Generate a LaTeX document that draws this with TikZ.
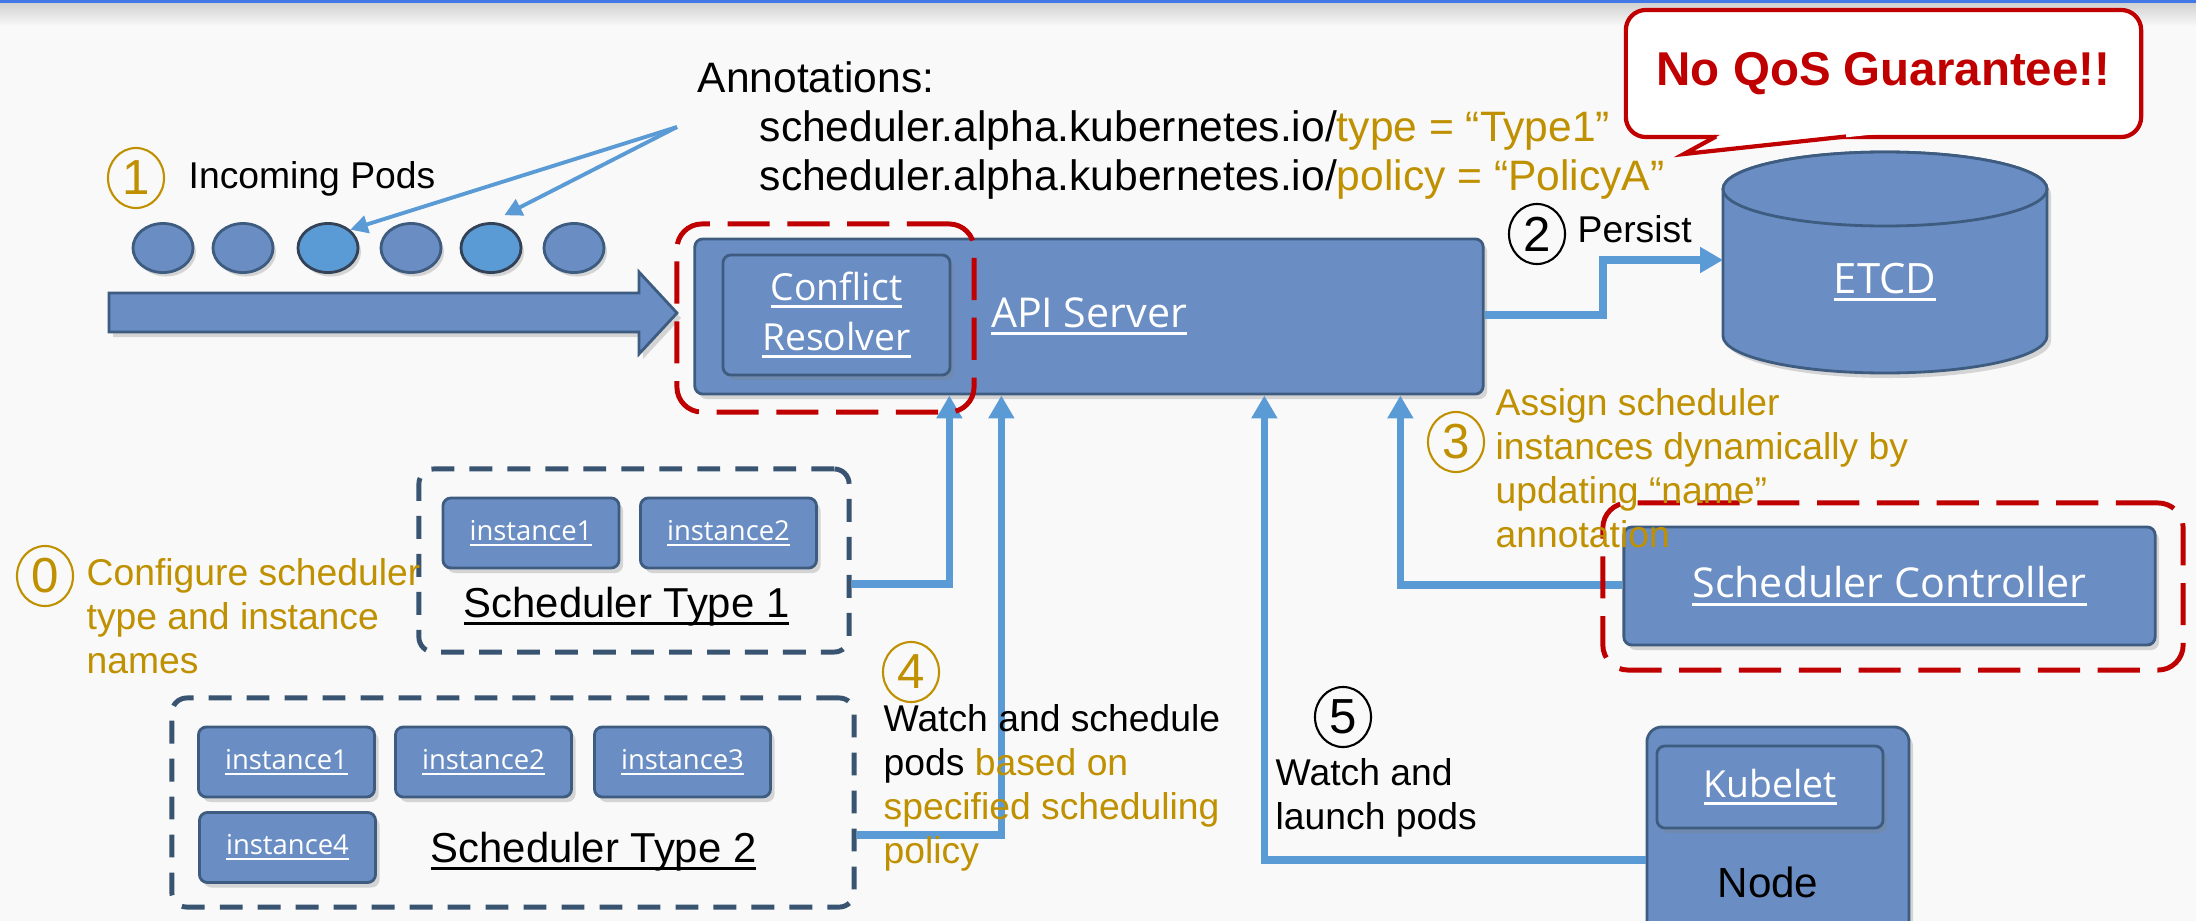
\documentclass[tikz,border=0pt]{standalone}
\usepackage{fontspec}
\setmainfont{Liberation Sans}
\newfontfamily\boxfont{Open Sans}
\usetikzlibrary{shapes.geometric}
\usetikzlibrary{shadows}
\usetikzlibrary{arrows.meta,calc}

\definecolor{boxblue}{RGB}{106,142,196}
\definecolor{boxedge}{RGB}{62,92,128}
\definecolor{flowblue}{RGB}{91,155,213}
\definecolor{podedge}{RGB}{52,66,88}
\definecolor{gold}{RGB}{191,144,0}
\definecolor{alarm}{RGB}{192,0,0}
\definecolor{slate}{RGB}{56,84,112}
\definecolor{paper}{RGB}{249,249,249}
\definecolor{topline}{RGB}{66,120,230}

\newcommand{\ulin}[1]{{\setbox0=\hbox{#1}\rlap{\rule[-0.19em]{\wd0}{0.07em}}\box0}}

\tikzset{
  box/.style={draw=boxedge, line width=0.8pt, fill=boxblue, rounded corners=0.08cm,
    drop shadow={shadow xshift=0.04cm, shadow yshift=-0.05cm, opacity=0.3},
    text=white, inner sep=0, align=center},
  inst/.style={box, minimum width=1.76cm, minimum height=0.7cm, font=\boxfont\fontsize{7.8}{9}\selectfont},
  pod/.style={ellipse, draw=boxedge, line width=0.8pt, fill=boxblue, minimum width=0.6cm, minimum height=0.49cm,
    inner sep=0, drop shadow={shadow xshift=0.03cm, shadow yshift=-0.04cm, opacity=0.3}},
  zone/.style={draw=alarm, line width=1.4pt, dash pattern=on 12pt off 5pt, rounded corners=0.25cm},
  group/.style={draw=slate, line width=1.4pt, dash pattern=on 6.5pt off 4.3pt, rounded corners=0.15cm},
  flow/.style={flowblue, line width=2pt, -{Triangle[length=6.5pt,width=7pt]}},
  pointer/.style={flowblue, line width=1.1pt, -{Triangle[length=5pt,width=5pt]}},
  lbl/.style={inner sep=0, align=left, anchor=base west, font=\fontsize{10.6}{12.5}\selectfont},
  numc/.style={ellipse, draw, line width=0.6pt, minimum width=0.56cm, minimum height=0.6cm,
    inner sep=0, font=\fontsize{14}{14}\selectfont},
  numgold/.style={numc, draw=gold, text=gold},
}

\begin{document}
\begin{tikzpicture}[x=0.01cm, y=-0.01cm]
  \useasboundingbox (0,0) rectangle (2196,921);
  \fill[paper] (0,0) rectangle (2196,921);
  \shade[top color=black!18, bottom color=paper] (0,3) rectangle (2196,26);
  \fill[topline] (0,0) rectangle (2196,3);

  %incoming pods
  \node[numgold] (n1) at (136,178) {1};
  \node[lbl] (lblpods) at (188,188) {Incoming Pods};
  \foreach \i/\x in {1/163,2/243,4/411,6/574} {
    \node[pod] (pod\i) at (\x,248) {};
  }
  \foreach \i/\x in {3/328,5/491} {
    \node[pod, fill=flowblue, draw=podedge] (pod\i) at (\x,248) {};
  }
  \fill[boxblue, draw=boxedge, line width=0.8pt,
    drop shadow={shadow xshift=0.04cm, shadow yshift=-0.05cm, opacity=0.3}]
    (109,293) -- (639,293) -- (639,272) -- (677,313) -- (639,354) -- (639,332) -- (109,332) -- cycle;

  %annotations (base = last line)
  \node[lbl, font=\fontsize{12.1}{13.9}\selectfont] (annot) at (697,190)
    {Annotations:\\
     \hspace*{0.62cm}scheduler.alpha.kubernetes.io/{\color{gold}type = “Type1”}\\
     \hspace*{0.62cm}scheduler.alpha.kubernetes.io/{\color{gold}policy = “PolicyA”}};
  \coordinate (annpt) at (677,127);
  \draw[pointer] (annpt) -- (pod3.north east);
  \draw[pointer, shorten >=0.15cm] (annpt) -- (pod5.north);

  %callout
  \node[draw=alarm, line width=1.2pt, fill=white, rounded corners=0.2cm, minimum width=5.15cm,
    minimum height=1.27cm, text=alarm, font=\bfseries\fontsize{13.5}{15}\selectfont] (qos) at (1883.5,73.5)
    {No QoS Guarantee!!};
  \fill[white] (1722,134) -- (1684,154) -- (1878,134) -- cycle;
  \draw[alarm, line width=1.2pt] (1716,136.5) -- (1684,154) -- (1846,136.5);

  %api server
  \node[box, minimum width=7.88cm, minimum height=1.55cm, font=\boxfont\fontsize{11.7}{14}\selectfont]
    (api) at (1089,316.5) {\ulin{API Server}};
  \node[box, minimum width=2.27cm, minimum height=1.2cm, font=\boxfont\fontsize{10.6}{14.2}\selectfont]
    (cr) at (836.5,315) {\ulin{Conflict}\\\ulin{Resolver}};

  %etcd
  \path[fill=boxblue, draw=boxedge, line width=0.8pt,
    drop shadow={shadow xshift=0.04cm, shadow yshift=-0.05cm, opacity=0.3}]
    (1723,189) -- (1723,336) arc[start angle=180, end angle=0, x radius=162, y radius=37]
    -- (2047,189) arc[start angle=0, end angle=-180, x radius=162, y radius=37] -- cycle;
  \draw[fill=boxblue, draw=boxedge, line width=0.8pt] (1885,189) ellipse[x radius=162, y radius=37];
  \node[text=white, font=\boxfont\fontsize{11.9}{14}\selectfont, inner sep=0] (etcd) at (1885,282) {\ulin{ETCD}};
  \coordinate (etcdin) at (1723,260);
  \draw[flow] (api.east |- 0,315) -- (1603,315) |- (etcdin);
  \node[numc] (n2) at (1537,234) {2};
  \node[lbl] (lblpersist) at (1577,242) {Persist};

  %schedulers
  \node[group, minimum width=4.3cm, minimum height=1.83cm] (st1) at (634,560.5) {};
  \node[inst] (inst1a) at (531,533) {\ulin{instance1}};
  \node[inst] (inst1b) at (728.5,533) {\ulin{instance2}};
  \node[lbl, font=\fontsize{11.9}{14}\selectfont] (st1lbl) at (463,617) {\ulin{Scheduler Type 1}};

  \node[group, minimum width=6.82cm, minimum height=2.09cm] (st2) at (513,802.5) {};
  \node[inst] (inst2a) at (286.5,762) {\ulin{instance1}};
  \node[inst] (inst2b) at (483.5,762) {\ulin{instance2}};
  \node[inst] (inst2c) at (682.5,762) {\ulin{instance3}};
  \node[inst] (inst2d) at (287.5,847.5) {\ulin{instance4}};
  \node[lbl, font=\fontsize{11.9}{14}\selectfont] (st2lbl) at (430,862) {\ulin{Scheduler Type 2}};

  \node[numgold] (n0) at (45,576) {0};
  \node[lbl, text=gold] (lblcfg) at (86,673) {Configure scheduler\\type and instance\\names};

  %controller and node
  \node[box, minimum width=5.31cm, minimum height=1.18cm, font=\boxfont\fontsize{11.7}{14}\selectfont]
    (sc) at (1889.5,586) {\ulin{Scheduler\ Controller}};
  \node[box, rounded corners=0.15cm, minimum width=2.62cm, minimum height=2.18cm] (worker) at (1778,836) {};
  \node[box, minimum width=2.26cm, minimum height=0.82cm, font=\boxfont\fontsize{10.6}{14}\selectfont]
    (kubelet) at (1770,787) {\ulin{Kubelet}};
  \node[inner sep=0, anchor=base, font=\fontsize{12}{14}\selectfont] (workerlbl) at (1768,897) {Node};

  %watch arrows
  \draw[flow] (st1.east |- 0,584) -| ($(api.south west)+(256,0)$);
  \draw[flow] (st2.east |- 0,835) -| ($(api.south west)+(308,0)$);
  \draw[flow] (worker.west |- 0,860) -| ($(api.south west)+(571,0)$);
  \draw[flow] (sc.west |- 0,585) -| ($(api.south west)+(707,0)$);

  \node[zone, minimum width=2.97cm, minimum height=1.88cm] (crzone) at (825.5,318) {};
  \node[zone, minimum width=5.8cm, minimum height=1.67cm] (sczone) at (1893,586.5) {};

  \node[numgold] (n3) at (1456,442) {3};
  \node[lbl, text=gold] (lblassign) at (1495,547)
    {Assign scheduler\\instances dynamically by\\updating “name”\\annotation};
  \node[numgold] (n4) at (911,672) {4};
  \node[lbl] (lblwatch) at (883,863)
    {Watch and schedule\\pods {\color{gold}based on}\\{\color{gold}specified scheduling}\\{\color{gold}policy}};
  \node[numc] (n5) at (1343,717) {5};
  \node[lbl] (lbllaunch) at (1275,829) {Watch and\\launch pods};
\end{tikzpicture}
\end{document}
